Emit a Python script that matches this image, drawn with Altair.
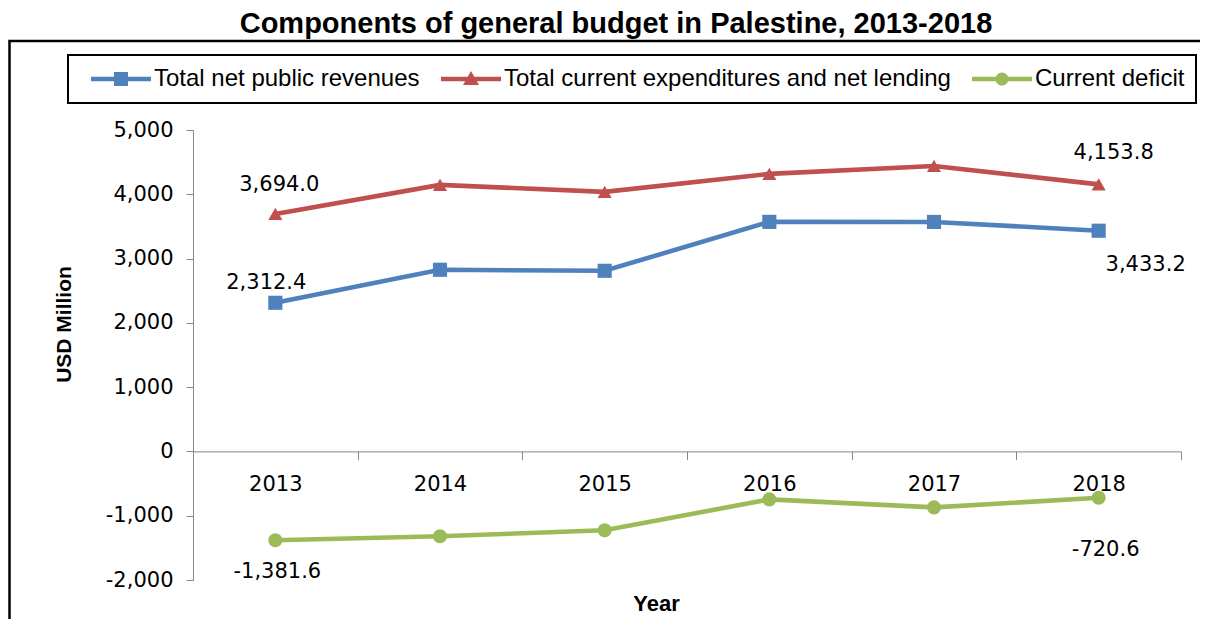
import altair as alt
import pandas as pd

years = [2013, 2014, 2015, 2016, 2017, 2018]
revenues = [2312.4, 2826.0, 2810.0, 3571.0, 3570.0, 3433.2]
expenditures = [3694.0, 4146.0, 4037.0, 4317.0, 4441.0, 4153.8]
deficit = [-1381.6, -1320.0, -1227.0, -746.0, -871.0, -720.6]

series_names = ["Total net public revenues",
                "Total current expenditures and net lending",
                "Current deficit"]
series_values = [revenues, expenditures, deficit]
colors = ["#4F81BD", "#C0504D", "#9BBB59"]
marker_shapes = ["square", "triangle-up", "circle"]
y_ticks = [-2000, -1000, 0, 1000, 2000, 3000, 4000, 5000]
chart_title = "Components of general budget in Palestine, 2013-2018"

# legend symbols: a line with the series marker on it (custom symbol paths)
legend_shapes = [
    "M-0.667,-0.061H1V0.061H-0.667Z M-0.027,-0.194H0.361V0.194H-0.027Z",
    "M-0.667,-0.061H1V0.061H-0.667Z M0.167,-0.22L0.389,0.17L-0.055,0.17Z",
    "M-0.667,-0.061H1V0.061H-0.667Z M0.348,0A0.181,0.181 0 1 1 -0.014,0A0.181,0.181 0 1 1 0.348,0Z",
]

rows = []
for name, vals in zip(series_names, series_values):
    for yr, v in zip(years, vals):
        rows.append({"year": yr, "value": v, "series": name})
df = pd.DataFrame(rows)

# category boundaries (ticks) and centres (labels)
x_values = [y - 0.5 for y in years] + [years[-1] + 0.5] + years

GRAY = "#868686"
LABEL_FONT = "DejaVu Sans"
TITLE_FONT = "Liberation Sans"
LABEL_SIZE = 21

x_enc = alt.X(
    "year:Q",
    scale=alt.Scale(domain=[years[0] - 0.5, years[-1] + 0.5], nice=False, zero=False),
    axis=alt.Axis(
        values=x_values,
        labelExpr="datum.value % 1 == 0 ? format(datum.value, 'd') : ''",
        labelFont=LABEL_FONT, labelFontSize=LABEL_SIZE, labelColor="black",
        labelPadding=14, labelOverlap=False, labelFlush=False,
        tickSize=8,
        tickColor={"condition": {"test": "datum.value % 1 == 0", "value": "transparent"},
                   "value": GRAY},
        domainColor=GRAY, grid=False, offset=-128.6,
        title="Year", titleFont=TITLE_FONT, titleFontSize=22, titleFontWeight="bold",
        titleColor="black", titleX=463, titleY=159.5, titleAlign="center",
        titleBaseline="alphabetic",
    ),
)
y_enc = alt.Y(
    "value:Q",
    scale=alt.Scale(domain=[-2000, 5000], nice=False, zero=False),
    axis=alt.Axis(
        values=y_ticks,
        labelExpr="replace(format(datum.value, ','), '\u2212', '-')",
        labelFont=LABEL_FONT, labelFontSize=LABEL_SIZE, labelColor="black",
        labelPadding=13, tickSize=7, tickColor=GRAY, domainColor=GRAY, grid=False,
        title="USD Million", titleFont=TITLE_FONT, titleFontSize=21,
        titleFontWeight="bold", titleColor="black", titleX=-123, titleY=194,
        titleAngle=270, titleAlign="center", titleBaseline="alphabetic",
    ),
)

color_nolegend = alt.Color("series:N", scale=alt.Scale(domain=series_names, range=colors),
                           legend=None)

base = alt.Chart(df)

lines = base.mark_line(strokeWidth=4.6).encode(x=x_enc, y=y_enc, color=color_nolegend)

points = base.mark_point(filled=True, size=200, opacity=1).encode(
    x=x_enc, y=y_enc, color=color_nolegend,
    shape=alt.Shape("series:N", scale=alt.Scale(domain=series_names, range=marker_shapes),
                    legend=None),
)

legend_def = alt.Legend(
    title=None, orient="none", legendX=-125, legendY=-75, direction="horizontal",
    columns=3, symbolSize=5184, clipHeight=26, symbolStrokeWidth=0,
    labelFont=TITLE_FONT, labelFontSize=24, labelColor="black", labelOffset=3,
    labelLimit=1000, columnPadding=9, padding=11, strokeColor="black",
)
legend_layer = base.mark_point(filled=True, size=200, opacity=1).encode(
    x=x_enc, y=y_enc,
    color=alt.Color("series:N", scale=alt.Scale(domain=series_names, range=colors),
                    legend=legend_def),
    shape=alt.Shape("series:N", scale=alt.Scale(domain=series_names, range=legend_shapes),
                    legend=legend_def),
).transform_filter("false")

label_expr = "replace(format(datum.value, ',.1f'), '\u2212', '-')"


def value_label(series, year, dx, dy):
    return base.mark_text(font=LABEL_FONT, fontSize=LABEL_SIZE, color="black",
                          dx=dx, dy=dy).encode(
        x=x_enc, y=y_enc, text="label:N"
    ).transform_filter(
        (alt.datum.series == series) & (alt.datum.year == year)
    ).transform_calculate(label=label_expr)


labels = [
    value_label(series_names[1], years[0], 4, -29),
    value_label(series_names[0], years[0], -9, -20),
    value_label(series_names[2], years[0], 2, 32),
    value_label(series_names[1], years[-1], 15, -31),
    value_label(series_names[0], years[-1], 47, 34),
    value_label(series_names[2], years[-1], 7, 52),
]

deco = alt.Chart(pd.DataFrame({"title": [chart_title]}))

frame = deco.mark_rect(filled=False, stroke="black", strokeWidth=2.5).encode(
    x=alt.value(-183.5), x2=alt.value(1040), y=alt.value(-89), y2=alt.value(520)
)

title_mark = deco.mark_text(
    font=TITLE_FONT, fontSize=29, fontWeight="bold", color="black",
    align="center", baseline="alphabetic",
).encode(x=alt.value(423), y=alt.value(-97), text="title:N")

chart = alt.layer(frame, title_mark, lines, points, legend_layer, *labels).resolve_scale(
    color="independent", shape="independent"
).properties(
    width=988, height=450,
    autosize=alt.AutoSizeParams(type="none"),
    padding={"left": 185, "top": 122, "right": 19, "bottom": 39},
).configure_view(strokeWidth=0).configure_legend(strokeWidth=2)

chart.save("out.html", embed_options={"renderer": "svg", "actions": False})
